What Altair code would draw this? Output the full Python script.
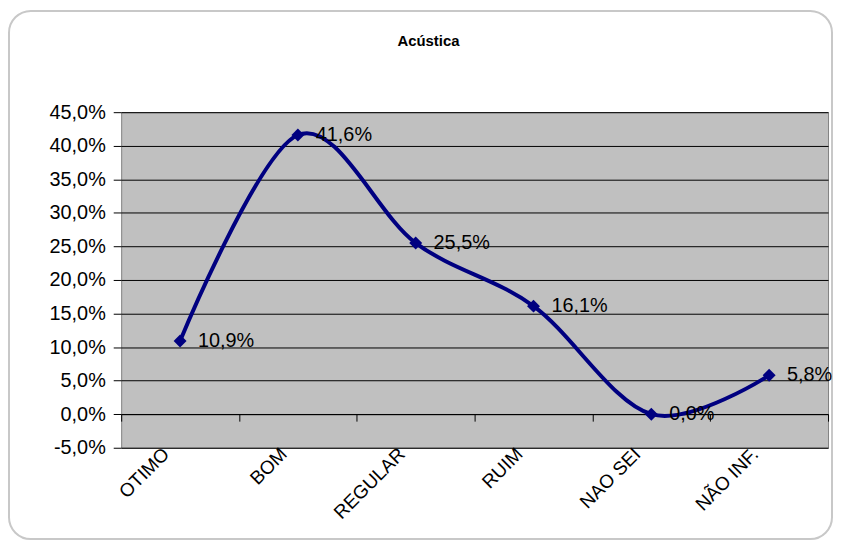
import altair as alt
import pandas as pd

categories = ["OTIMO", "BOM", "REGULAR", "RUIM", "NAO SEI", "NÃO INF."]
values = [0.109, 0.416, 0.255, 0.161, 0.0, 0.058]

df = pd.DataFrame({"cat": categories, "v": values})

W, H = 712, 338
FONT = "Liberation Sans"
NAVY = "#000080"

xscale = alt.Scale(type="band", paddingInner=0, paddingOuter=0)
yscale = alt.Scale(domain=[-0.05, 0.45], nice=False, zero=False)

pct_expr = "replace(replace(format(datum.value, '.1%'), '.', ','), '\u2212', '-')"

label_axis = alt.Axis(
    title=None, orient="bottom", labelAngle=-45, labelAlign="right", labelBaseline="middle",
    labelFont=FONT, labelFontSize=19, labelColor="black", labelPadding=3, labelOffset=-14,
    ticks=False, domain=False, grid=False, labelOverlap=False,
)
tick_axis = alt.Axis(
    title=None, orient="bottom", labels=False, ticks=True, tickBand="extent", tickSize=7,
    tickColor="black", domain=True, domainColor="black", grid=False,
    offset=-H / 10,
)
y_axis = alt.Axis(
    title=None, values=[-0.05 + 0.05 * i for i in range(11)], labelOverlap=False,
    labelExpr=pct_expr, labelFont=FONT, labelFontSize=20, labelColor="black",
    labelPadding=8, tickSize=8, tickColor="black", domain=False,
    grid=True, gridColor="black", gridOpacity=1, gridWidth=1,
)

base = alt.Chart(df)
x_enc = lambda ax: alt.X("cat:N", sort=categories, scale=xscale, axis=ax)
y_enc = alt.Y("v:Q", scale=yscale, axis=y_axis)

frame = alt.Chart(pd.DataFrame({"f": [0]})).mark_rect(
    fillOpacity=0, stroke="#C8C8C8", strokeWidth=2, cornerRadius=22
).encode(
    x=alt.value(-113), x2=alt.value(716), y=alt.value(-102), y2=alt.value(430)
)

line = base.mark_line(interpolate="cardinal", color=NAVY, strokeWidth=4).encode(
    x=x_enc(label_axis), y=y_enc
)
points = base.mark_point(shape="diamond", filled=True, size=170, color=NAVY, opacity=1).encode(
    x=x_enc(tick_axis), y=y_enc
)
text = base.mark_text(align="left", baseline="middle", dx=18, font=FONT, fontSize=20, color="black").transform_calculate(
    lbl="replace(format(datum.v, '.1%'), '.', ',')"
).encode(
    x=x_enc(None), y=y_enc, text="lbl:N"
)

chart = alt.layer(frame, line, points, text).resolve_axis(x="independent").properties(
    width=W, height=H, background="white",
    autosize=alt.AutoSizeParams(type="none"),
    title=alt.TitleParams("Acústica", font=FONT, fontSize=15, fontWeight="bold", anchor="middle",
                          frame="bounds", offset=-39, dx=8, color="black"),
    padding={"left": 114, "top": 103, "right": 6, "bottom": 94},
).configure_view(fill="#C0C0C0", stroke="#808080", strokeWidth=1)

chart.save("out.html", embed_options={"renderer": "svg", "actions": False})
